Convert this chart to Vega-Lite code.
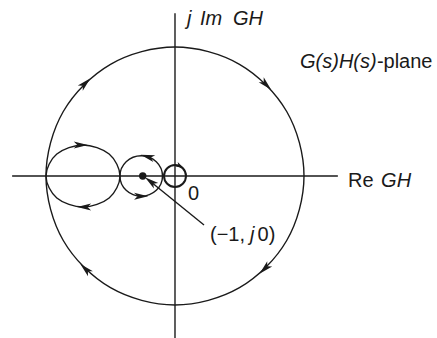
{
  "$schema": "https://vega.github.io/schema/vega-lite/v6.json",
  "width": 437,
  "height": 338,
  "autosize": {"type": "none"},
  "padding": 0,
  "background": "white",
  "config": {"view": {"stroke": null}},
  "datasets": {
    "curves": [
      {"curve": "big", "ord": 0, "re": 4, "im": 0},
      {"curve": "big", "ord": 1, "re": 3.464, "im": 2},
      {"curve": "big", "ord": 2, "re": 2, "im": 3.464},
      {"curve": "big", "ord": 3, "re": 0, "im": 4},
      {"curve": "big", "ord": 4, "re": -2, "im": 3.464},
      {"curve": "big", "ord": 5, "re": -3.464, "im": 2},
      {"curve": "big", "ord": 6, "re": -4, "im": 0},
      {"curve": "big", "ord": 7, "re": -3.464, "im": -2},
      {"curve": "big", "ord": 8, "re": -2, "im": -3.464},
      {"curve": "big", "ord": 9, "re": 0, "im": -4},
      {"curve": "big", "ord": 10, "re": 2, "im": -3.464},
      {"curve": "big", "ord": 11, "re": 3.464, "im": -2},
      {"curve": "left", "ord": 0, "re": -1.705, "im": 0},
      {"curve": "left", "ord": 1, "re": -2.042, "im": 0.68},
      {"curve": "left", "ord": 2, "re": -2.853, "im": 0.961},
      {"curve": "left", "ord": 3, "re": -3.664, "im": 0.68},
      {"curve": "left", "ord": 4, "re": -4.0, "im": 0},
      {"curve": "left", "ord": 5, "re": -3.664, "im": -0.68},
      {"curve": "left", "ord": 6, "re": -2.853, "im": -0.961},
      {"curve": "left", "ord": 7, "re": -2.042, "im": -0.68},
      {"curve": "mid", "ord": 0, "re": -0.387, "im": 0},
      {"curve": "mid", "ord": 1, "re": -0.58, "im": 0.445},
      {"curve": "mid", "ord": 2, "re": -1.047, "im": 0.63},
      {"curve": "mid", "ord": 3, "re": -1.514, "im": 0.445},
      {"curve": "mid", "ord": 4, "re": -1.707, "im": 0},
      {"curve": "mid", "ord": 5, "re": -1.514, "im": -0.445},
      {"curve": "mid", "ord": 6, "re": -1.047, "im": -0.63},
      {"curve": "mid", "ord": 7, "re": -0.58, "im": -0.445},
      {"curve": "small", "ord": 0, "re": 0.341, "im": 0},
      {"curve": "small", "ord": 1, "re": 0.241, "im": 0.241},
      {"curve": "small", "ord": 2, "re": 0, "im": 0.341},
      {"curve": "small", "ord": 3, "re": -0.241, "im": 0.241},
      {"curve": "small", "ord": 4, "re": -0.341, "im": 0},
      {"curve": "small", "ord": 5, "re": -0.241, "im": -0.241},
      {"curve": "small", "ord": 6, "re": 0, "im": -0.341},
      {"curve": "small", "ord": 7, "re": 0.241, "im": -0.241}
    ],
    "rules": [
      {"name": "re-axis", "re": -5.05, "im": 0, "re2": 5.05, "im2": 0},
      {"name": "im-axis", "re": 0, "im": 5.05, "re2": 0, "im2": -5.1},
      {"name": "pointer", "re": -0.8, "im": -0.14, "re2": 0.9, "im2": -1.52}
    ],
    "arrows": [
      {"kind": "big", "re": 2.828, "im": 2.828, "dir": 45},
      {"kind": "big", "re": -2.779, "im": 2.877, "dir": 316},
      {"kind": "big", "re": -2.779, "im": -2.877, "dir": 224},
      {"kind": "big", "re": 2.779, "im": -2.877, "dir": 136},
      {"kind": "big", "re": -2.92, "im": 0.959, "dir": 0},
      {"kind": "big", "re": -2.82, "im": -0.961, "dir": 180},
      {"kind": "big", "re": -0.853, "im": 0.602, "dir": 196},
      {"kind": "big", "re": -1.05, "im": -0.63, "dir": 0},
      {"kind": "big", "re": -0.76, "im": -0.17, "dir": 218},
      {"kind": "small", "re": 0.165, "im": 0.298, "dir": 30}
    ],
    "dot": [{"re": -1, "im": 0}],
    "labels": [
      {"text": "j", "style": "italic", "re": 0.372, "im": 4.667},
      {"text": "Im", "style": "italic", "re": 0.775, "im": 4.667},
      {"text": "GH", "style": "italic", "re": 1.798, "im": 4.667},
      {"text": "G(s)H(s)", "style": "italic", "re": 3.876, "im": 3.34},
      {"text": "-plane", "style": "normal", "re": 6.26, "im": 3.34},
      {"text": "Re", "style": "normal", "re": 5.364, "im": -0.35},
      {"text": "GH", "style": "italic", "re": 6.39, "im": -0.35},
      {"text": "0", "style": "normal", "re": 0.403, "im": -0.744},
      {"text": "(−1,", "style": "normal", "re": 1.085, "im": -2.0},
      {"text": "j", "style": "italic", "re": 2.326, "im": -2.0},
      {"text": "0)", "style": "normal", "re": 2.56, "im": -2.0}
    ]
  },
  "encoding": {
    "x": {"field": "re", "type": "quantitative", "scale": {"domain": [-5.426, 8.124], "nice": false, "zero": false}, "axis": null},
    "y": {"field": "im", "type": "quantitative", "scale": {"domain": [-5.023, 5.457], "nice": false, "zero": false}, "axis": null}
  },
  "layer": [
    {
      "data": {"name": "rules"},
      "mark": {"type": "rule", "color": "#1a1a1a", "strokeWidth": 1.4},
      "encoding": {
        "x2": {"field": "re2"},
        "y2": {"field": "im2"}
      }
    },
    {
      "data": {"name": "curves"},
      "transform": [{"filter": "datum.curve !== 'small'"}],
      "mark": {"type": "line", "interpolate": "cardinal-closed", "color": "#1a1a1a", "strokeWidth": 1.4},
      "encoding": {
        "detail": {"field": "curve"},
        "order": {"field": "ord", "type": "quantitative"}
      }
    },
    {
      "data": {"name": "curves"},
      "transform": [{"filter": "datum.curve === 'small'"}],
      "mark": {"type": "line", "interpolate": "cardinal-closed", "color": "#1a1a1a", "strokeWidth": 2},
      "encoding": {
        "detail": {"field": "curve"},
        "order": {"field": "ord", "type": "quantitative"}
      }
    },
    {
      "data": {"name": "arrows"},
      "transform": [{"filter": "datum.kind === 'big'"}],
      "mark": {"type": "point", "shape": "M1,0L-1,-0.5L-0.5,0L-1,0.5Z", "filled": true, "color": "#1a1a1a", "opacity": 1, "size": 200, "strokeWidth": 0},
      "encoding": {
        "angle": {"field": "dir", "type": "quantitative", "scale": null}
      }
    },
    {
      "data": {"name": "arrows"},
      "transform": [{"filter": "datum.kind === 'small'"}],
      "mark": {"type": "point", "shape": "M1,0L-1,-0.55L-0.5,0L-1,0.55Z", "filled": true, "color": "#1a1a1a", "opacity": 1, "size": 80, "strokeWidth": 0},
      "encoding": {
        "angle": {"field": "dir", "type": "quantitative", "scale": null}
      }
    },
    {
      "data": {"name": "dot"},
      "mark": {"type": "point", "shape": "circle", "filled": true, "color": "#1a1a1a", "opacity": 1, "size": 55}
    },
    {
      "data": {"name": "labels"},
      "transform": [{"filter": "datum.style === 'italic'"}],
      "mark": {"type": "text", "align": "left", "baseline": "alphabetic", "font": "Liberation Sans", "fontSize": 20, "fontStyle": "italic", "color": "#1a1a1a"},
      "encoding": {"text": {"field": "text"}}
    },
    {
      "data": {"name": "labels"},
      "transform": [{"filter": "datum.style === 'normal'"}],
      "mark": {"type": "text", "align": "left", "baseline": "alphabetic", "font": "Liberation Sans", "fontSize": 20, "color": "#1a1a1a"},
      "encoding": {"text": {"field": "text"}}
    }
  ]
}
